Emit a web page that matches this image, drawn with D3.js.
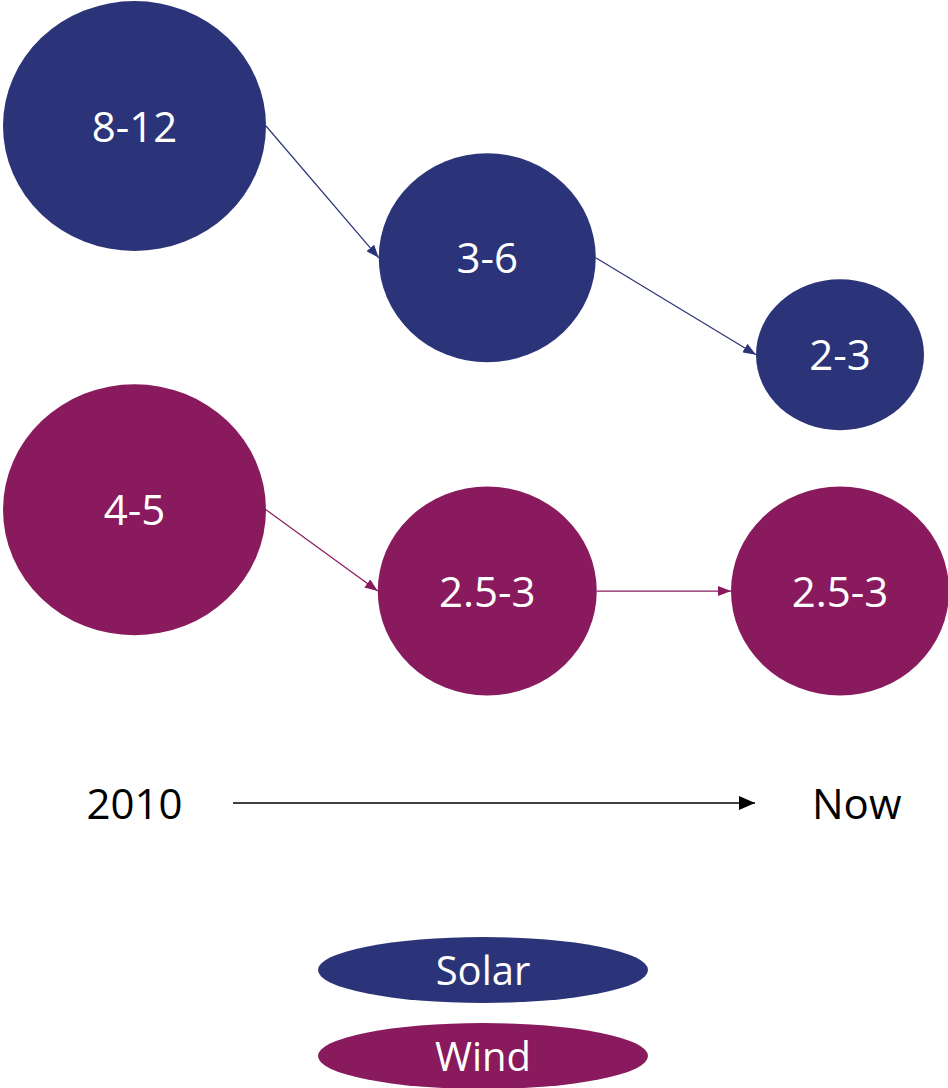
<!DOCTYPE html>
<html>
<head>
<meta charset="utf-8">
<script src="https://cdn.jsdelivr.net/npm/d3@7"></script>
<style>
  body { margin: 0; background: #fff; }
  svg { display: block; font-family: "Open Sans", sans-serif; }
</style>
</head>
<body>
<script>
// cost ranges for each stage (low - high)
var stages = ["2010", "Mid", "Now"];
var series = ["Solar", "Wind"];
var solarLow = [8, 3, 2],
    solarHigh = [12, 6, 3];
var windLow = [4, 2.5, 2.5],
    windHigh = [5, 3, 3];

var colors = { Solar: "#2b3479", Wind: "#891a5d" };

window.onload = drawChart();

function drawChart(){
    var width = 948,
        height = 1088;

    var svg = d3.select("body")
        .append("svg")
        .attr("width", width)
        .attr("height", height);

    //arrow heads
    var defs = svg.append("defs");
    function addMarker(id, color, len, wid){
        defs.append("marker")
            .attr("id", id)
            .attr("markerUnits", "userSpaceOnUse")
            .attr("viewBox", "0 0 " + len + " " + wid)
            .attr("refX", len)
            .attr("refY", wid / 2)
            .attr("markerWidth", len)
            .attr("markerHeight", wid)
            .attr("orient", "auto")
            .append("path")
            .attr("d", "M0,0L" + len + "," + (wid / 2) + "L0," + wid + "Z")
            .attr("fill", color);
    }
    addMarker("arrSolar", colors.Solar, 13, 10);
    addMarker("arrWind", colors.Wind, 13, 10);
    addMarker("arrTime", "#000", 16, 14);

    //stage positions across the page
    var x = d3.scalePoint()
        .domain(stages)
        .range([134.5, 840]);

    //vertical position follows log of mid value, offset per series row
    var yLog = d3.scaleLog()
        .domain([1, 10])
        .range([0, -380]);
    var rowBase = d3.scaleOrdinal()
        .domain(series)
        .range([506, 758]);

    //ellipse sizes (layout)
    var nodeSize = {
        Solar: [[131.5, 125], [108.5, 104.5], [84, 75.5]],
        Wind:  [[131.5, 125.5], [109.5, 104.5], [109, 104.5]]
    };

    var data = [];
    series.forEach(function(s){
        var lo = s == "Solar" ? solarLow : windLow,
            hi = s == "Solar" ? solarHigh : windHigh;
        var nodes = stages.map(function(st, i){
            var mid = (lo[i] + hi[i]) / 2;
            return {
                series: s,
                label: lo[i] + "-" + hi[i],
                cx: x(st),
                cy: rowBase(s) + yLog(mid),
                rx: nodeSize[s][i][0],
                ry: nodeSize[s][i][1]
            };
        });
        data.push(nodes);
    });

    data.forEach(function(nodes){
        var s = nodes[0].series;
        var g = svg.append("g").attr("class", s);

        //connecting arrows
        for (var i = 0; i < nodes.length - 1; i++){
            var a = nodes[i], b = nodes[i + 1];
            g.append("line")
                .attr("x1", a.cx + a.rx)
                .attr("y1", a.cy)
                .attr("x2", b.cx - b.rx)
                .attr("y2", b.cy)
                .attr("stroke", colors[s])
                .attr("stroke-width", 1.2)
                .attr("marker-end", "url(#arr" + s + ")");
        }

        var node = g.selectAll(".node")
            .data(nodes)
            .enter()
            .append("g")
            .attr("class", "node");

        node.append("ellipse")
            .attr("cx", function(d){ return d.cx; })
            .attr("cy", function(d){ return d.cy; })
            .attr("rx", function(d){ return d.rx; })
            .attr("ry", function(d){ return d.ry; })
            .attr("fill", colors[s]);

        node.append("text")
            .attr("x", function(d){ return d.cx; })
            .attr("y", function(d){ return d.cy; })
            .attr("dy", "0.37em")
            .attr("text-anchor", "middle")
            .attr("fill", "#fff")
            .attr("font-size", 42)
            .text(function(d){ return d.label; });
    });

    //timeline
    var timeY = 803;
    svg.append("text")
        .attr("x", x(stages[0]))
        .attr("y", timeY)
        .attr("dy", "0.37em")
        .attr("text-anchor", "middle")
        .attr("font-size", 42)
        .text(stages[0]);
    svg.append("line")
        .attr("x1", 233)
        .attr("y1", timeY)
        .attr("x2", 755)
        .attr("y2", timeY)
        .attr("stroke", "#000")
        .attr("stroke-width", 1.5)
        .attr("marker-end", "url(#arrTime)");
    svg.append("text")
        .attr("x", 812)
        .attr("y", timeY)
        .attr("dy", "0.37em")
        .attr("font-size", 42)
        .text(stages[2]);

    //legend
    var legY = d3.scalePoint()
        .domain(series)
        .range([970, 1056]);
    var leg = svg.selectAll(".legend")
        .data(series)
        .enter()
        .append("g")
        .attr("class", "legend");
    leg.append("ellipse")
        .attr("cx", 483)
        .attr("cy", function(d){ return legY(d); })
        .attr("rx", 165)
        .attr("ry", 33)
        .attr("fill", function(d){ return colors[d]; });
    leg.append("text")
        .attr("x", 483)
        .attr("y", function(d){ return legY(d); })
        .attr("dy", "0.37em")
        .attr("text-anchor", "middle")
        .attr("fill", "#fff")
        .attr("font-size", 40)
        .text(function(d){ return d; });
};
</script>
</body>
</html>
